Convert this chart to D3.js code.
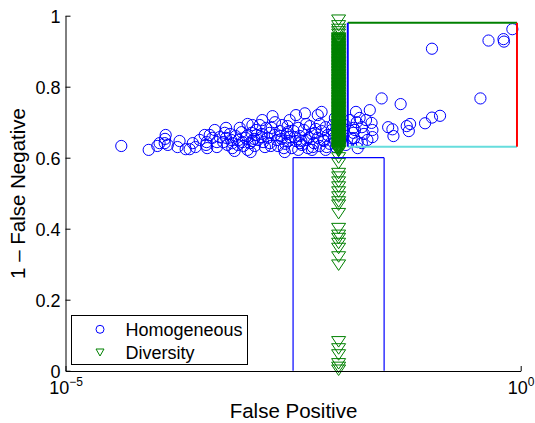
<!DOCTYPE html>
<html><head><meta charset="utf-8">
<script src="https://cdn.jsdelivr.net/npm/d3@7/dist/d3.min.js"></script>
<style>body{margin:0;background:#fff}svg{display:block}text{font-family:"Liberation Sans",Arial,sans-serif}</style>
</head><body>
<script>
// ---------- data ----------
const homogeneous = [
[4.1e-5,0.633],[8.2e-5,0.622],[1.26e-4,0.664],[1.24e-4,0.653],[1.08e-4,0.641],[1.23e-4,0.641],[1.33e-4,0.636],[1.02e-4,0.633],
[1.79e-4,0.647],[1.70e-4,0.630],[2.09e-4,0.624],[2.31e-4,0.624],[2.68e-4,0.630],[3.38e-4,0.664],[3.55e-4,0.644],[3.6e-4,0.627],
[4.1e-4,0.656],[4.6e-4,0.630],[5.6e-4,0.670],[5.4e-4,0.644],[6.6e-4,0.650],[6.8e-4,0.627],[8.6e-4,0.672],[8.8e-4,0.644],
[1.0e-3,0.622],[1.13e-3,0.692],[1.36e-3,0.692],[1.26e-3,0.664],[1.48e-3,0.644],[1.88e-3,0.717],[1.75e-3,0.670],[2.1e-3,0.650],
[2.4e-3,0.692],[2.56e-3,0.616],[2.75e-3,0.672],[3.4e-3,0.720],[6.5e-3,0.729],
[4.36e-4,0.678],[4.94e-4,0.658],[6.0e-4,0.636],[7.4e-4,0.661],[7.8e-4,0.636],[9.5e-4,0.656],[1.06e-3,0.641],[1.1e-3,0.670],
[1.2e-3,0.633],[1.3e-3,0.650],[1.43e-3,0.667],[1.55e-3,0.630],[1.66e-3,0.656],[1.75e-3,0.641],[1.84e-3,0.684],[1.99e-3,0.664],
[2.15e-3,0.633],[2.26e-3,0.675],[2.37e-3,0.653],[2.6e-3,0.639],[2.75e-3,0.689],[2.91e-3,0.658],[3.06e-3,0.627],[3.2e-3,0.675],
[3.4e-3,0.647],[3.6e-3,0.684],[3.75e-3,0.661],[3.95e-3,0.636],[4.15e-3,0.678],[4.4e-3,0.650],[4.6e-3,0.627],[4.83e-3,0.689],
[5.1e-3,0.667],[5.35e-3,0.641],[5.6e-3,0.681],[5.9e-3,0.656],[6.2e-3,0.633],[6.5e-3,0.675],[6.8e-3,0.650],[7.2e-3,0.686],
[7.6e-3,0.664],[8.0e-3,0.639],[8.4e-3,0.678],[8.9e-3,0.656],[9.3e-3,0.630],[8.6e-3,0.692],[5.8e-4,0.684],[8.2e-4,0.684],
[7.2e-4,0.619],[1.08e-3,0.616],[3.84e-4,0.664],[3.5e-4,0.636],[2.98e-4,0.650],[2.5e-4,0.641],[5.8e-4,0.656],[9.0e-4,0.633],
[1.24e-3,0.678],[1.6e-3,0.684],[2.5e-3,0.627],[3.6e-3,0.622],[5.1e-3,0.622],[7.2e-3,0.622],[6.2e-3,0.695],[4.4e-3,0.695],
[2.9e-3,0.706],[2.0e-3,0.700],[1.45e-3,0.706],[1.0e-3,0.695],[5.9e-3,0.720],[4.26e-3,0.725],[9.1e-3,0.712],
[1.18e-3,0.653],[1.43e-3,0.658],[1.8e-3,0.633],[2.3e-3,0.661],[2.8e-3,0.647],[3.3e-3,0.658],[3.9e-3,0.647],[4.7e-3,0.656],
[5.5e-3,0.670],[6.9e-3,0.647],[8.9e-3,0.670],[5.2e-3,0.630],[7.4e-3,0.630],[3.75e-3,0.641],[2.7e-3,0.667],
[4.6e-4,0.644],[6.4e-4,0.667],[9.8e-4,0.661],[1.12e-3,0.647],[8.0e-4,0.650],[6.8e-4,0.641],
[1.17e-2,0.692],[1.39e-2,0.655],[1.45e-2,0.684],[1.48e-2,0.655],[1.55e-2,0.729],[1.58e-2,0.700],[1.8e-2,0.686],[1.45e-2,0.670],
[1.51e-2,0.678],[1.62e-2,0.644],[1.8e-2,0.641],[1.9e-2,0.667],[2.2e-2,0.734],[2.3e-2,0.698],[2.35e-2,0.678],[2.35e-2,0.658],
[2.0e-2,0.706],[1.7e-2,0.712],[1.33e-2,0.706],[1.2e-2,0.636],[1.1e-2,0.678],[1.06e-2,0.650],[1.03e-2,0.706],[2.07e-2,0.650],
[1.62e-2,0.627],[2.97e-2,0.767],[4.8e-2,0.751],[3.5e-2,0.686],[3.9e-2,0.680],[4.0e-2,0.661],[5.6e-2,0.689],[6.1e-2,0.695],
[5.9e-2,0.675],[8.9e-2,0.697],[0.106,0.713],[0.130,0.718],[0.106,0.907],[0.361,0.767],[0.443,0.930],[0.647,0.934],
[0.655,0.927],[0.81,0.962]
];
const diversityFP = 0.01;
const diversityTP = [
0.988,0.972,0.962,0.955,0.948,
0.938,0.936,0.933,0.931,0.929,0.927,0.924,0.922,0.920,0.918,0.915,0.913,0.911,0.909,0.906,0.904,0.902,0.900,0.897,0.895,
0.893,0.891,0.888,0.886,0.884,0.882,0.879,0.877,0.875,0.872,0.870,0.868,0.866,0.863,0.861,0.859,0.857,0.854,0.852,0.850,
0.848,0.845,0.843,0.841,0.839,0.836,0.834,0.832,0.830,0.827,0.825,0.822,0.820,0.818,0.816,0.813,0.811,0.809,0.807,0.804,
0.802,0.800,0.798,0.795,0.793,0.791,0.789,0.786,0.784,0.782,0.780,0.777,0.775,0.772,0.770,0.768,0.766,0.763,0.761,0.759,
0.757,0.754,0.752,0.750,0.748,0.745,0.743,0.741,0.739,0.736,0.734,0.732,0.730,0.727,0.725,0.722,0.720,0.718,0.716,0.713,
0.711,0.709,0.707,0.704,0.702,0.700,0.698,0.695,0.693,0.691,0.689,0.686,0.684,0.682,0.680,0.677,0.675,0.672,0.670,0.668,
0.666,0.663,0.661,0.659,0.657,0.654,0.652,0.650,0.648,0.645,0.643,0.641,0.639,0.636,0.634,0.632,0.630,0.627,0.625,0.622,
0.620,0.618,
0.600,0.584,0.556,0.546,0.532,0.518,0.504,0.490,0.476,0.467,0.443,0.401,0.382,0.373,0.359,0.345,0.321,0.298,
0.082,0.062,0.045,0.020,0.010,0.002
];
const lowBox = {x0:3.16e-3, x1:3.16e-2, y0:0, y1:0.6};
const highBox = {x0:1.26e-2, x1:0.91, y0:0.631, y1:0.98};
const yTicks = [0,0.2,0.4,0.6,0.8,1];
const yTickLabels = ["0","0.2","0.4","0.6","0.8","1"];
const xTicks = [1e-5, 1];
const xTickExp = ["−5","0"];
const seriesNames = ["Homogeneous","Diversity"];
const xLabel = "False Positive";
const yLabel = "1 – False Negative";

// ---------- drawing ----------
const W = 535, H = 423;
const svg = d3.select("body").append("svg").attr("width",W).attr("height",H);
const x = d3.scaleLog().domain([1e-5,1]).range([65.5,520.7]);
const y = d3.scaleLinear().domain([0,1]).range([370.7,15.7]);
const BLUE="#0000ff", GREEN="#008000";

// circles
svg.append("g").selectAll("circle").data(homogeneous).join("circle")
  .attr("cx",d=>x(d[0])).attr("cy",d=>y(d[1])).attr("r",5.6)
  .attr("fill","none").attr("stroke",BLUE).attr("stroke-width",1);

// triangles
const tri = "M-7,-5L7,-5L0,5.5Z";
svg.append("g").selectAll("path").data(diversityTP).join("path")
  .attr("transform",d=>`translate(${x(diversityFP)},${y(d)})`).attr("d",tri)
  .attr("fill","none").attr("stroke",GREEN).attr("stroke-width",1);

// boxes
const lb = svg.append("g").attr("fill","none").attr("stroke",BLUE).attr("stroke-width",1.2);
lb.append("line").attr("x1",x(lowBox.x0)).attr("x2",x(lowBox.x0)).attr("y1",y(lowBox.y0)).attr("y2",y(lowBox.y1));
lb.append("line").attr("x1",x(lowBox.x0)).attr("x2",x(lowBox.x1)).attr("y1",y(lowBox.y1)).attr("y2",y(lowBox.y1));
lb.append("line").attr("x1",x(lowBox.x1)).attr("x2",x(lowBox.x1)).attr("y1",y(lowBox.y1)).attr("y2",y(lowBox.y0));
const hb = svg.append("g").attr("stroke-width",2);
hb.append("line").attr("stroke","#66dddd").attr("x1",x(highBox.x0)).attr("x2",x(highBox.x1)).attr("y1",y(highBox.y0)).attr("y2",y(highBox.y0));
hb.append("line").attr("stroke",GREEN).attr("x1",x(highBox.x0)).attr("x2",x(highBox.x1)).attr("y1",y(highBox.y1)).attr("y2",y(highBox.y1));
hb.append("line").attr("stroke","#ff0000").attr("x1",x(highBox.x1)).attr("x2",x(highBox.x1)).attr("y1",y(highBox.y0)).attr("y2",y(highBox.y1));
hb.append("line").attr("stroke",BLUE).attr("x1",x(highBox.x0)).attr("x2",x(highBox.x0)).attr("y1",y(highBox.y0)).attr("y2",y(highBox.y1));

// y axis
const ya = svg.append("g").attr("transform","translate(65.5,0)")
  .call(d3.axisLeft(y).tickValues(yTicks).tickSizeInner(-5).tickSizeOuter(0).tickFormat((d,i)=>yTickLabels[i]));
ya.select(".domain").attr("stroke","#000");
ya.selectAll(".tick line").attr("stroke","#000");
ya.selectAll(".tick text").attr("x",-5).attr("dy","0.4em").attr("font-size",18).attr("fill","#000")
  .style("font-family",'"Liberation Sans",Arial,sans-serif');

// x axis
const xa = svg.append("g").attr("transform","translate(0,371)")
  .call(d3.axisBottom(x).tickValues(xTicks).tickSizeInner(-5).tickSizeOuter(0).tickFormat(""));
xa.select(".domain").attr("stroke","#000");
xa.selectAll(".tick line").attr("stroke","#000");
xa.selectAll(".tick").each(function(d,i){
  const t = d3.select(this).append("text").attr("y",22.5).attr("text-anchor","middle").attr("fill","#000")
    .style("font-family",'"Liberation Sans",Arial,sans-serif');
  t.append("tspan").attr("font-size",18).text("10");
  t.append("tspan").attr("font-size",12).attr("dy",-8).text(xTickExp[i]);
});

// labels
svg.append("text").attr("x",293.5).attr("y",418).attr("text-anchor","middle").attr("font-size",20.5).text(xLabel);
svg.append("text").attr("transform","translate(24.5,193.5) rotate(-90)").attr("text-anchor","middle").attr("font-size",20.5).text(yLabel);

// legend
const lg = svg.append("g");
lg.append("rect").attr("x",71.5).attr("y",315.5).attr("width",176).attr("height",49).attr("fill","#fff").attr("stroke","#000");
lg.append("circle").attr("cx",100).attr("cy",329.3).attr("r",4).attr("fill","none").attr("stroke",BLUE);
lg.append("path").attr("transform","translate(100,352.5)").attr("d","M-4,-3.5L4,-3.5L0,3.5Z").attr("fill","none").attr("stroke",GREEN);
seriesNames.forEach((n,i)=>{
  lg.append("text").attr("x",125.5).attr("y",336+i*22.5).attr("font-size",18).text(n);
});
</script>
</body></html>
